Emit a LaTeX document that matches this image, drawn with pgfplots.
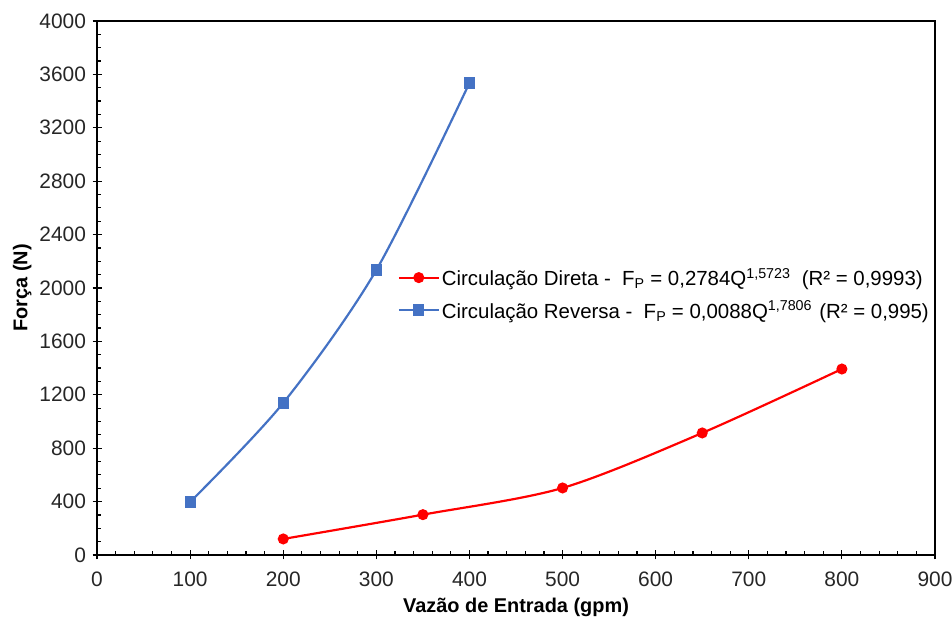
\documentclass[border=0pt]{standalone}
\usepackage{pgfplots}
\pgfplotsset{compat=1.18}
\usepackage{fontspec}
\setmainfont{Liberation Sans}
\definecolor{cdir}{HTML}{FF0000}
\definecolor{crev}{HTML}{4472C4}

\begin{document}
\begin{tikzpicture}
\begin{axis}[
  scale only axis, width=838bp, height=534bp,
  xmin=0, xmax=900, ymin=0, ymax=4000,
  xtick={0,100,...,900}, ytick={0,400,...,4000},
  minor x tick num=4, minor y tick num=3,
  tickpos=left, tick align=center,
  major tick length=9bp, minor tick length=4bp,
  minor x tick style={yshift=2bp}, minor y tick style={xshift=2bp},
  every tick/.append style={black, line width=1.2pt},
  axis line style={black, line width=1.3pt},
  /pgf/number format/assume math mode=true,
  /pgf/number format/1000 sep={},
  ticklabel style={font=\fontsize{21}{24}\selectfont, text=black!85},
  xticklabel style={yshift=-9bp},
  yticklabel style={xshift=-3bp},
  xlabel={\textbf{Vazão de Entrada (gpm)}},
  ylabel={\textbf{Força (N)}},
  label style={font=\fontsize{20}{22}\selectfont},
  xlabel style={yshift=-4bp},
  ylabel style={yshift=1bp},
  legend image code/.code={\draw[mark repeat=2,mark phase=2]
    plot coordinates {(0bp,0bp) (20bp,0bp) (40bp,0bp)};},
  legend style={at={(0.355,0.545)}, anchor=north west, draw=none, fill=none,
    font=\fontsize{20.5}{24}\selectfont, row sep=9.5bp, cells={anchor=west}},
  legend cell align=left,
  clip=false,
]
\coordinate (bbl) at (rel axis cs:-0.1158,-0.118);
\coordinate (btr) at (rel axis cs:1.0203,1.0393);
\addplot[cdir, line width=2.2pt, smooth, mark=*, mark size=4.4bp] coordinates {
  (200,120) (350,302) (500,502) (650,914) (800,1393)};
\addplot[crev, line width=2.2pt, smooth, mark=square*, mark size=4.5bp] coordinates {
  (100,397) (200,1139) (300,2135) (400,3536)};
\legend{{Circulação Direta -\hspace{0.55em}F\textsubscript{P} = 0,2784Q\textsuperscript{1,5723}\hspace{0.55em}(R² = 0,9993)},
  {Circulação Reversa -\hspace{0.55em}F\textsubscript{P} = 0,0088Q\textsuperscript{1,7806}\hspace{0.35em}(R² = 0,995)}}
\end{axis}
\pgfresetboundingbox
\path (bbl) rectangle (btr);
\end{tikzpicture}
\end{document}
